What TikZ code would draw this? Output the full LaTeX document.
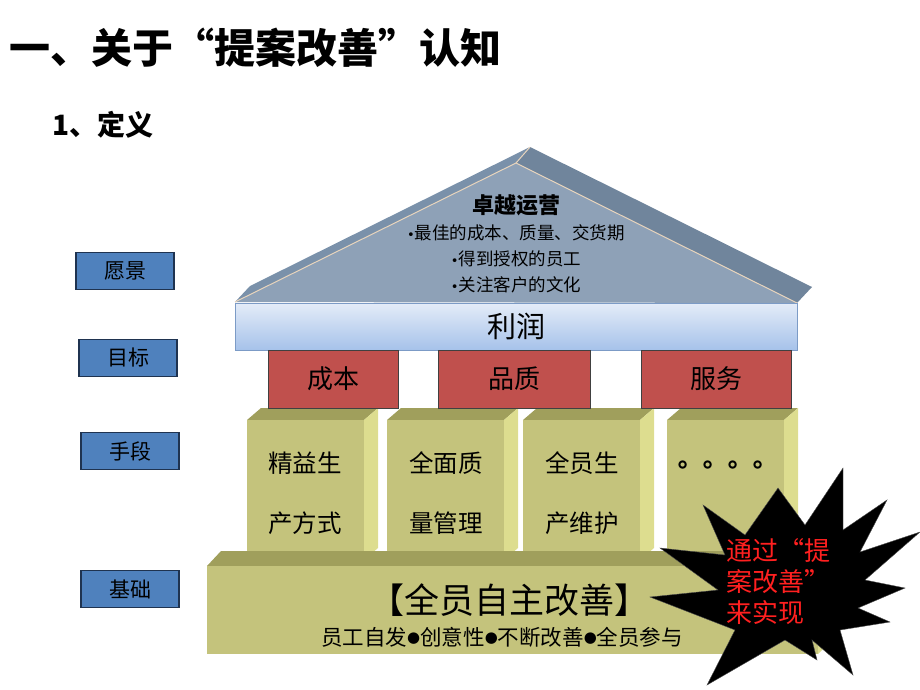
\documentclass[tikz,border=0pt]{standalone}
\usepackage{fontspec}
\setmainfont{Noto Sans CJK SC}
\newfontfamily\tcfont{Noto Sans CJK TC}
\newfontfamily\symfont{DejaVu Sans}
\usetikzlibrary{positioning}
\definecolor{roof}{HTML}{8EA1B7}
\definecolor{roofside}{HTML}{7A91AA}
\definecolor{roofedge}{HTML}{E8D4BC}
\definecolor{barTop}{HTML}{E4ECF8}
\definecolor{barBot}{HTML}{A6C2EA}
\definecolor{barEdge}{HTML}{7C9BC6}
\definecolor{goal}{HTML}{C0504D}
\definecolor{olive}{HTML}{C4C37C}
\definecolor{olivetop}{HTML}{A09F5C}
\definecolor{oliveside}{HTML}{DDDD8F}
\definecolor{label}{HTML}{4F81BD}
\definecolor{labeledge}{HTML}{1F3350}
\definecolor{burstred}{HTML}{FF2020}
\newcommand\bul{\raisebox{0.5pt}{\symfont\fontsize{13}{13}\selectfont•}}
\newcommand\dotsep{\raisebox{2.5pt}{\symfont\fontsize{15}{15}\selectfont●}}

\begin{document}
\begin{tikzpicture}[x=1pt,y=-1pt,
  lbl/.style={draw=labeledge,fill=label,line width=1.2pt,minimum width=98pt,
    minimum height=37pt,inner sep=0pt,font=\fontsize{21}{22}\selectfont},
  goalbox/.style={draw=black!75,fill=goal,line width=1pt,minimum height=58pt,
    inner sep=0pt,font=\fontsize{26}{28}\selectfont},
  pillartext/.style={align=center,font=\fontsize{24.5}{60}\selectfont}
]
\useasboundingbox (0,0) rectangle (920,690);

	% heading
	\node[anchor=west,inner sep=0pt,font=\fontsize{41}{43}\selectfont\bfseries] (title) at (9,48) {一、关于“提案改善”认知};
	\node[anchor=west,inner sep=0pt,font=\fontsize{28}{30}\selectfont\bfseries] (sub) at (52,125) {1、定义};

	% left labels
	\node[lbl] (vision) at (125,271) {愿景};
	\node[lbl] (target) at (128,358) {目标};
	\node[lbl] (means) at (130,451) {手段};
	\node[lbl] (basis) at (130,589) {基础};

	% roof
	\fill[roofside] (235,302) -- (250,286) -- (530,147) -- (516,163)--cycle;
	\fill[roofside!92!black] (516,163) -- (530,147) -- (812,287) -- (797,303)--cycle;
	\fill[roof] (235,302) -- (516,163) -- (797,303)--cycle;
	\draw[roofedge,line width=1pt] (235,302) -- (516,163) -- (797,303);
	\draw[roofedge,line width=1pt] (516,163) -- (530,147);
	\node[align=center,inner sep=0pt,font=\fontsize{17.5}{26}\selectfont] (excel) at (516,244)
	  {{\fontsize{22}{26}\selectfont\bfseries 卓越运营}\\\bul 最佳的成本、质量、交货期\\\bul 得到授权的员工\\\bul 关注客户的文化};

	% profit bar
	\node[draw=barEdge,line width=1pt,top color=barTop,bottom color=barBot,minimum width=562pt,
	  minimum height=47pt,inner sep=0pt,font=\fontsize{29}{30}\selectfont] (profit) at (516,326.5) {利润};

	% pillars
	\foreach \x in {247,387,523,667}{
	  \fill[olivetop] (\x,420) -- (\x+14,408) -- (\x+131,408) -- (\x+117,420)--cycle;
	  \fill[oliveside] (\x+117,420) -- (\x+131,408) -- (\x+131,548) -- (\x+117,560)--cycle;
	  \fill[olive] (\x,420) rectangle (\x+117,560);
	}
	\node[pillartext] (lean) at (305,493) {精益生\\产方式};
	\node[pillartext] (tqm) at (446,493) {全面质\\量管理};
	\node[pillartext] (tpm) at (582,493) {全员生\\产维护};
	\node[font=\tcfont\fontsize{25}{26}\selectfont\bfseries] (more) at (720,468) {。。。。};

	% goals
	\node[goalbox,minimum width=130pt] (cost) at (333,379) {成本};
	\node[goalbox,minimum width=152pt] (quality) at (514,379) {品质};
	\node[goalbox,minimum width=150pt] (service) at (716,379) {服务};

	% base
	\fill[olivetop] (207,566) -- (221,551) -- (832,551) -- (818,566)--cycle;
	\fill[oliveside] (818,566) -- (832,551) -- (832,640) -- (818,654)--cycle;
	\fill[olive] (207,566) rectangle (818,654);
	\node[font=\fontsize{35}{37}\selectfont] (kaizen) at (509,600) {【全员自主改善】};
	\node[anchor=west,inner sep=0pt,font=\fontsize{21.5}{23}\selectfont] (traits) at (321,637)
	  {员工自发\dotsep 创意性\dotsep 不断改善\dotsep 全员参与};

	% burst
	\fill[black,draw=black!70] (703,505) -- (745,535) -- (778,488) -- (805,525) -- (843,468) -- (843,530)
	  -- (887,500) -- (860,552) -- (920,532) -- (865,580) -- (905,588) -- (858,608) -- (890,622)
	  -- (840,630) -- (853,675) -- (812,640) -- (817,660) -- (785,640) -- (707,685) -- (735,630)
	  -- (650,597) -- (718,590) -- (660,548) -- (725,555)--cycle;
	\node[text=burstred,align=left,anchor=west,inner sep=0pt,font=\fontsize{26}{31}\selectfont] (via) at (726,582)
	  {通过“提\\案改善”\\来实现};
\end{tikzpicture}
\end{document}
